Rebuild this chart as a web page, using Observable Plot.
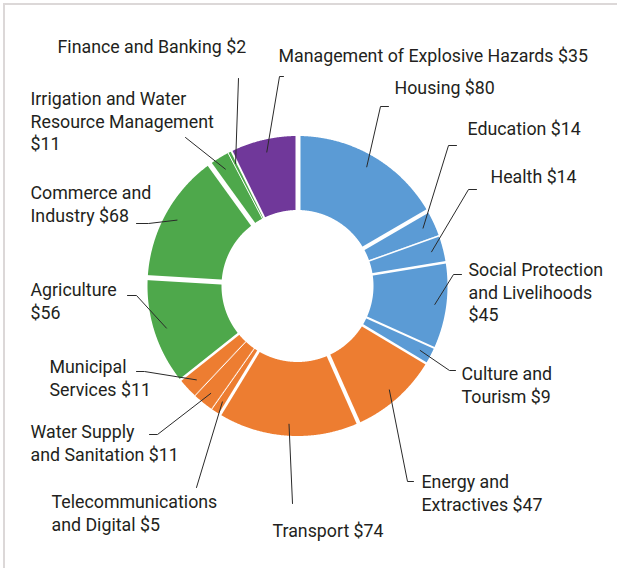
<!DOCTYPE html>
<html>
<head>
<meta charset="utf-8">
<script src="https://cdn.jsdelivr.net/npm/d3@7"></script>
<script src="https://cdn.jsdelivr.net/npm/@observablehq/plot@0.6"></script>
<style>
  html, body { margin: 0; padding: 0; background: #fff; }
  #wrap { position: absolute; left: 3px; top: 3px; border-top: 2px solid #dcd8d8; border-left: 2px solid #dcd8d8; }
  #wrap svg { display: block; }
</style>
</head>
<body>
<div id="wrap"></div>
<script>
// ---- data ----
const categories = ["Housing", "Education", "Health", "Social Protection and Livelihoods", "Culture and Tourism",
  "Energy and Extractives", "Transport", "Telecommunications and Digital", "Water Supply and Sanitation", "Municipal Services",
  "Agriculture", "Commerce and Industry", "Irrigation and Water Resource Management", "Finance and Banking",
  "Management of Explosive Hazards"];
const values = [80, 14, 14, 45, 9, 47, 74, 5, 11, 11, 56, 68, 11, 2, 35];
const groups = ["social", "social", "social", "social", "social",
  "infrastructure", "infrastructure", "infrastructure", "infrastructure", "infrastructure",
  "productive", "productive", "productive", "productive", "cross-cutting"];

// ---- styles / layout ----
const groupColors = {"social": "#5b9bd5", "infrastructure": "#ed7d31", "productive": "#4ea84b", "cross-cutting": "#70389a"};
const labelTemplates = ["Housing {v}", "Education {v}", "Health {v}", "Social Protection\nand Livelihoods\n{v}",
  "Culture and\nTourism {v}", "Energy and\nExtractives {v}", "Transport {v}", "Telecommunications\nand Digital {v}",
  "Water Supply\nand Sanitation {v}", "Municipal\nServices {v}", "Agriculture\n{v}", "Commerce and\nIndustry {v}",
  "Irrigation and Water\nResource Management\n{v}", "Finance and Banking {v}", "Management of Explosive Hazards {v}"];
const labelPos = [[394, 78], [467, 119], [490, 167], [468, 260], [461, 364], [421, 472], [272, 521], [51, 492],
  [30, 422], [49, 357], [30, 280], [30, 183], [30, 89], [57, 37], [278, 46]];
const leaderStart = [[388, 106], [456, 145], [476, 189], [461, 274], [455, 370], [413, 481], [292, 503], [196, 487],
  [149, 434], [136, 371], [127, 295], [136, 223], [185, 137], [238, 78], [283, 76]];
const leaderElbow = [[380, 106], [448, 145], [468, 189], [453, 274], [449, 370], [407, 481], null, null,
  [157, 434], [144, 371], [136, 295], [148, 223], null, null, [279, 76]];
const gapWidths = [5, 4, 1.5, 2.5, 2, 2.5, 4, 3, 1, 1, 2.5, 5, 5, 1, 2];
const cx = 297.5, cy = 286, R = 150, R0 = 76;
const W = 617, H = 568, off = 5;

// ---- geometry from data ----
const arcs = d3.pie().sort(null).value(d => d)(values);
const pt = (r, a) => [cx + r * Math.sin(a), cy - r * Math.cos(a)];

const sliceRows = [];
arcs.forEach((a, i) => {
  const n = Math.max(2, Math.ceil((a.endAngle - a.startAngle) / 0.005));
  for (let k = 0; k <= n; k++) {
    const t = a.startAngle + (a.endAngle - a.startAngle) * k / n;
    const [x1, y1] = pt(R0, t), [x2, y2] = pt(R, t);
    sliceRows.push({cat: categories[i], color: groupColors[groups[i]], x1, y1, x2, y2});
  }
});

const gapRows = arcs.map((a, i) => {
  const [x1, y1] = pt(R0 - 3, a.startAngle), [x2, y2] = pt(R + 3, a.startAngle);
  return {x1, y1, x2, y2, w: gapWidths[i]};
});

const leaderRows = [];
arcs.forEach((a, i) => {
  const mid = (a.startAngle + a.endAngle) / 2;
  const end = pt(R * 0.92, mid);
  const pts = [leaderStart[i]];
  if (leaderElbow[i]) pts.push(leaderElbow[i]);
  pts.push(end);
  pts.forEach(p => leaderRows.push({cat: categories[i], x: p[0], y: p[1]}));
});

const labelRows = categories.map((c, i) => ({
  text: labelTemplates[i].replace("{v}", "$" + values[i]),
  x: labelPos[i][0], y: labelPos[i][1]
}));

const chart = Plot.plot({
  width: W - off, height: H - off,
  margin: 0,
  x: {domain: [off, W], range: [0, W - off], axis: null},
  y: {domain: [off, H], range: [0, H - off], axis: null},
  color: {type: "identity"},
  style: {fontFamily: "Roboto, sans-serif", fontSize: "17.8px", background: "#fff"},
  marks: [
    Plot.area(sliceRows, {x1: "x1", y1: "y1", x2: "x2", y2: "y2", z: "cat", fill: "color"}),
    Plot.link(gapRows, {x1: "x1", y1: "y1", x2: "x2", y2: "y2", stroke: "#fff", strokeWidth: "w", strokeLinecap: "butt"}),
    Plot.line(leaderRows, {x: "x", y: "y", z: "cat", stroke: "#2a2a2a", strokeWidth: 1}),
    Plot.text(labelRows, {x: "x", y: "y", text: "text", textAnchor: "start", lineAnchor: "top", lineHeight: 1.264, fill: "#231f20", fontSize: 17.8})
  ]
});
document.getElementById("wrap").appendChild(chart);
</script>
</body>
</html>
